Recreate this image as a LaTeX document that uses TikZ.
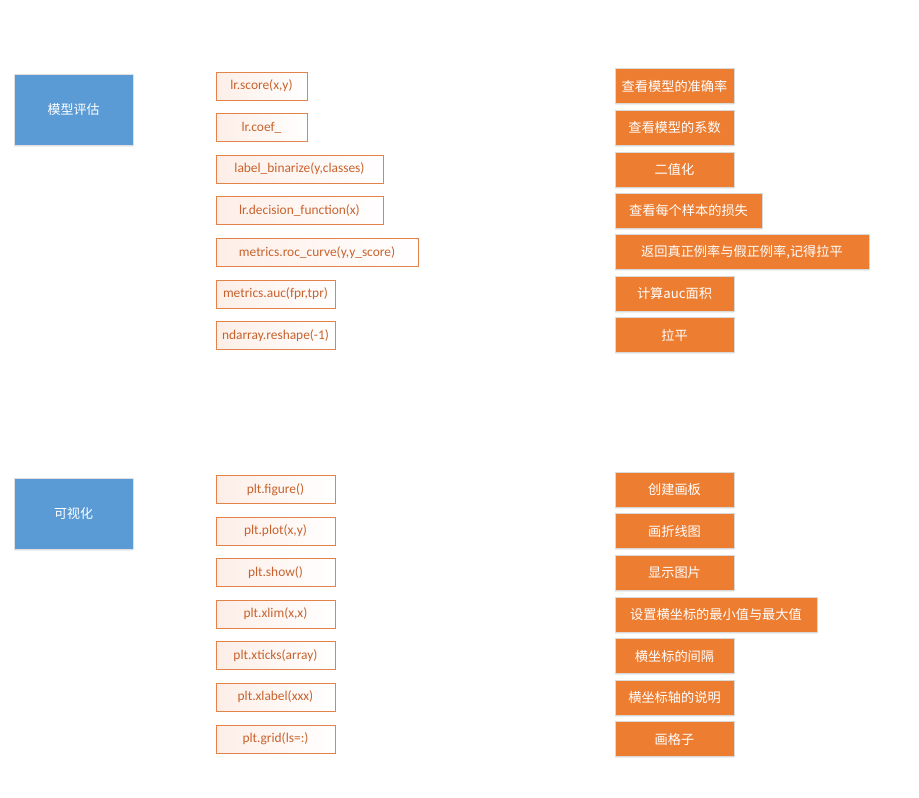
\documentclass[tikz,border=0pt]{standalone}
\usepackage{fontspec}
\setmainfont{Carlito}
\newfontfamily\cjk{Noto Sans CJK SC}
\usetikzlibrary{shadows}
\definecolor{boxblue}{RGB}{91,155,213}
\definecolor{boxorange}{RGB}{237,125,49}
\definecolor{codeline}{RGB}{228,130,75}
\definecolor{codetext}{RGB}{200,98,45}
\definecolor{codefill}{RGB}{253,238,231}
\begin{document}
\begin{tikzpicture}[x=1pt,y=-1pt,
  bluebox/.style={fill=boxblue, draw=black!12, line width=0.8pt, inner sep=0pt,
    text=white, font=\cjk\fontsize{13}{15}\selectfont,
    drop shadow={shadow xshift=0pt, shadow yshift=-1.5pt, fill=black!10, opacity=0.6}},
  codebox/.style={draw=codeline, line width=0.9pt, inner sep=0pt, text=codetext,
    left color=codefill, right color=white, minimum height=28pt,
    font=\fontsize{13.4}{15}\selectfont},
  notebox/.style={fill=boxorange, draw=black!15, line width=0.8pt, inner sep=0pt,
    text=white, minimum height=35pt, font=\cjk\fontsize{13.2}{15}\selectfont,
    drop shadow={shadow xshift=0pt, shadow yshift=-1.5pt, fill=black!10, opacity=0.6}}]
\useasboundingbox (0,0) rectangle (919,798);

% section boxes
\node[bluebox, minimum width=119pt, minimum height=71pt] (s1) at (73.5,109.5) {模型评估};
\node[bluebox, minimum width=119pt, minimum height=71pt] (s2) at (73.5,513.5) {可视化};

% code boxes, top
\node[codebox, minimum width=91pt]  (c1) at (261.5,86)  {lr.score(x,y)};
\node[codebox, minimum width=91pt]  (c2) at (261.5,127.5) {lr.coef\_};
\node[codebox, minimum width=167pt] (c3) at (299.5,169) {label\_binarize(y,classes)};
\node[codebox, minimum width=167pt] (c4) at (299.5,210.5) {lr.decision\_function(x)};
\node[codebox, minimum width=202pt] (c5) at (317,252.5) {metrics.roc\_curve(y,y\_score)};
\node[codebox, minimum width=119pt] (c6) at (275.5,294) {metrics.auc(fpr,tpr)};
\node[codebox, minimum width=119pt] (c7) at (275.5,335.5) {ndarray.reshape(-1)};

% code boxes, bottom
\node[codebox, minimum width=119pt] (d1) at (275.5,489.5) {plt.figure()};
\node[codebox, minimum width=119pt] (d2) at (275.5,531) {plt.plot(x,y)};
\node[codebox, minimum width=119pt] (d3) at (275.5,572.5) {plt.show()};
\node[codebox, minimum width=119pt] (d4) at (275.5,614) {plt.xlim(x,x)};
\node[codebox, minimum width=119pt] (d5) at (275.5,655.5) {plt.xticks(array)};
\node[codebox, minimum width=119pt] (d6) at (275.5,697) {plt.xlabel(xxx)};
\node[codebox, minimum width=119pt] (d7) at (275.5,739) {plt.grid(ls=:)};

% note boxes, top
\node[notebox, minimum width=119pt] (n1) at (674.5,86)  {查看模型的准确率};
\node[notebox, minimum width=119pt] (n2) at (674.5,127.5) {查看模型的系数};
\node[notebox, minimum width=119pt] (n3) at (674.5,169.5) {二值化};
\node[notebox, minimum width=147pt] (n4) at (688.5,210.5) {查看每个样本的损失};
\node[notebox, minimum width=254pt] (n5) at (742,252) {返回真正例率与假正例率,记得拉平};
\node[notebox, minimum width=119pt] (n6) at (674.5,293.5) {计算auc面积};
\node[notebox, minimum width=119pt] (n7) at (674.5,335) {拉平};

% note boxes, bottom
\node[notebox, minimum width=119pt] (m1) at (674.5,489.5) {创建画板};
\node[notebox, minimum width=119pt] (m2) at (674.5,531) {画折线图};
\node[notebox, minimum width=119pt] (m3) at (674.5,572.5) {显示图片};
\node[notebox, minimum width=202pt] (m4) at (716,614.5) {设置横坐标的最小值与最大值};
\node[notebox, minimum width=119pt] (m5) at (674.5,656) {横坐标的间隔};
\node[notebox, minimum width=119pt] (m6) at (674.5,697.5) {横坐标轴的说明};
\node[notebox, minimum width=119pt] (m7) at (674.5,739) {画格子};
\end{tikzpicture}
\end{document}
